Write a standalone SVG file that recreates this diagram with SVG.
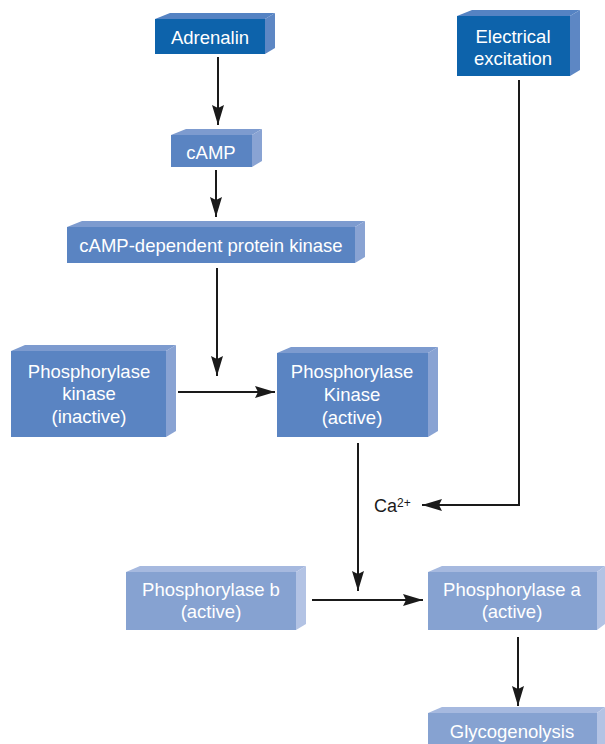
<svg xmlns="http://www.w3.org/2000/svg" width="605" height="744" viewBox="0 0 605 744">
<defs>
<style>
text{font-family:"Liberation Sans",Arial,sans-serif;font-size:18.5px;fill:#ffffff;text-anchor:middle}
.dk .f{fill:#0d63ab}.dk .s{fill:#5d87c4}.dk .t{fill:#5583c3}
.md .f{fill:#5a84c2}.md .s{fill:#89a3d3}.md .t{fill:#7d9bcf}
.lt .f{fill:#86a2d1}.lt .s{fill:#b3c3e4}.lt .t{fill:#a6b9df}
.c{stroke:#1a1a1a;stroke-width:2;fill:none;marker-end:url(#ah)}
.lbl{fill:#1a1a1a;text-anchor:start}
</style>
<marker id="ah" markerUnits="userSpaceOnUse" markerWidth="22" markerHeight="14" refX="20" refY="7" orient="auto">
<path d="M0,1 L20,7 L0,13 L3,7 Z" fill="#1a1a1a"/>
</marker>
</defs>
<rect width="605" height="744" fill="#ffffff"/>
<g id="adrenalin" class="dk">
<polygon class="t" points="155,19 170,13 275,13 265,19"/>
<polygon class="s" points="265,19 275,13 275,48 265,54"/>
<rect class="f" x="155" y="19" width="110" height="35"/>
<text x="210" y="44">Adrenalin</text>
</g>
<g id="electrical" class="dk">
<polygon class="t" points="457,16 472,10 580,10 570,16"/>
<polygon class="s" points="570,16 580,10 580,70 570,76"/>
<rect class="f" x="457" y="16" width="113" height="60"/>
<text x="513" y="43">Electrical</text>
<text x="513" y="65">excitation</text>
</g>
<g id="camp" class="md">
<polygon class="t" points="171,135 186,129 262,129 252,135"/>
<polygon class="s" points="252,135 262,129 262,161 252,167"/>
<rect class="f" x="171" y="135" width="81" height="32"/>
<text x="211" y="159">cAMP</text>
</g>
<g id="pka" class="md">
<polygon class="t" points="67,227 82,221 365,221 355,227"/>
<polygon class="s" points="355,227 365,221 365,257 355,263"/>
<rect class="f" x="67" y="227" width="288" height="36"/>
<text x="211" y="252">cAMP-dependent protein kinase</text>
</g>
<g id="phk-inactive" class="md">
<polygon class="t" points="11,351 25,345 176,345 166,351"/>
<polygon class="s" points="166,351 176,345 176,431 166,437"/>
<rect class="f" x="11" y="351" width="155" height="86"/>
<text x="89" y="378">Phosphorylase</text>
<text x="89" y="400">kinase</text>
<text x="89" y="423">(inactive)</text>
</g>
<g id="phk-active" class="md">
<polygon class="t" points="277,353 291,347 438,347 428,353"/>
<polygon class="s" points="428,353 438,347 438,431 428,437"/>
<rect class="f" x="277" y="353" width="151" height="84"/>
<text x="352" y="378">Phosphorylase</text>
<text x="352" y="401">Kinase</text>
<text x="352" y="424">(active)</text>
</g>
<g id="phos-b" class="lt">
<polygon class="t" points="126,572 140,566 306,566 296,572"/>
<polygon class="s" points="296,572 306,566 306,624 296,630"/>
<rect class="f" x="126" y="572" width="170" height="58"/>
<text x="211" y="596">Phosphorylase b</text>
<text x="211" y="618">(active)</text>
</g>
<g id="phos-a" class="lt">
<polygon class="t" points="428,572 442,566 605,566 597,572"/>
<polygon class="s" points="597,572 605,566 605,624 597,630"/>
<rect class="f" x="428" y="572" width="169" height="58"/>
<text x="512" y="596">Phosphorylase a</text>
<text x="512" y="618">(active)</text>
</g>
<g id="glycogenolysis" class="lt">
<polygon class="t" points="428,713 442,707 605,707 597,713"/>
<polygon class="s" points="597,713 605,707 605,744 597,744"/>
<rect class="f" x="428" y="713" width="169" height="31"/>
<text x="512" y="738">Glycogenolysis</text>
</g>
<g id="connectors">
<path class="c" d="M218 57 V125"/>
<path class="c" d="M216 170 V217"/>
<path class="c" d="M217 268 V376"/>
<path class="c" d="M178 392 H275"/>
<path class="c" d="M519 80 V505 H422"/>
<path class="c" d="M358 443 V591"/>
<path class="c" d="M312 600 H423"/>
<path class="c" d="M518 637 V706"/>
<text class="lbl" x="374" y="512" style="font-size:18px">Ca<tspan dy="-5" style="font-size:12px">2+</tspan></text>
</g>
</svg>
